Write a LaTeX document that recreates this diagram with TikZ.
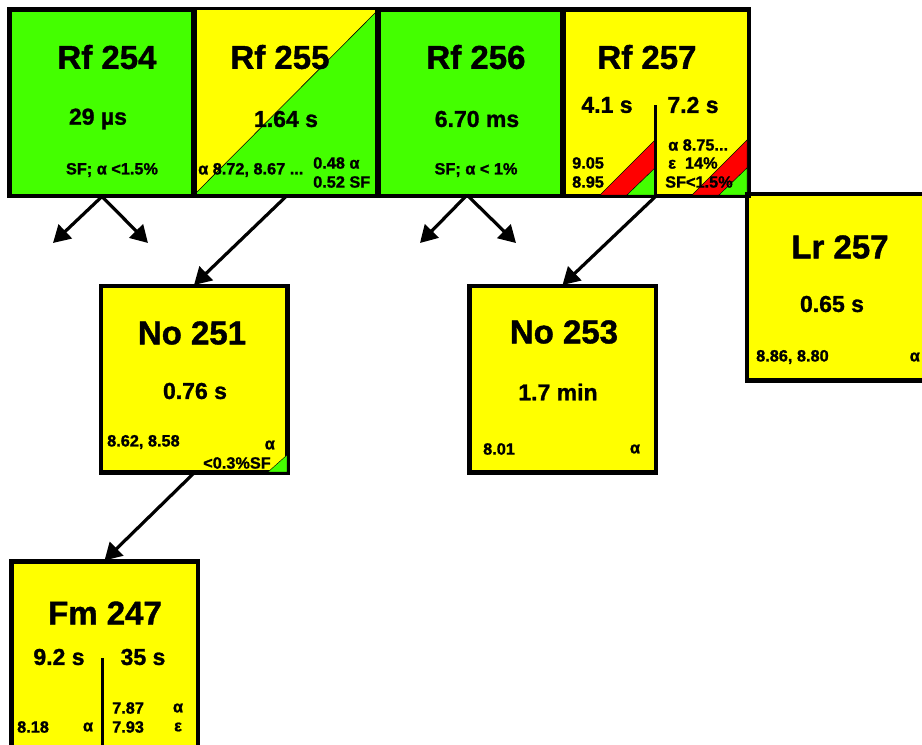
\documentclass[tikz,border=0pt]{standalone}
\usepackage{fontspec}
\setmainfont{Liberation Sans}[BoldFeatures={FakeBold=1.2}]
\usetikzlibrary{arrows.meta,calc}
\definecolor{ngreen}{HTML}{44FF00}
\definecolor{nyellow}{HTML}{FFFF00}
\definecolor{nred}{HTML}{FF0000}
\begin{document}
\begin{tikzpicture}[x=1pt,y=-1pt,
  cell/.style={minimum width=#1,minimum height=185pt,inner sep=0pt,line width=3pt,draw=black},
  cell/.default=185pt,
  ttl/.style={font=\fontsize{33}{35}\selectfont\bfseries,inner sep=0pt},
  hl/.style={font=\fontsize{23}{25}\selectfont\bfseries,inner sep=0pt},
  sm/.style={font=\fontsize{16.3}{18}\selectfont\bfseries,inner sep=0pt},
  dk/.style={line width=3.2pt,-{Triangle[length=17pt,width=19pt]}},
  sep/.style={line width=3pt},
  edge/.style={line width=0.4pt,draw=black}
  ]
\useasboundingbox (0,0) rectangle (922,745);

% cells
\node[cell=184pt,fill=ngreen]  (rf254) at (102,102.5) {};
\node[cell=184pt,fill=ngreen]  (rf255) at (286,102.5) {};
\node[cell=185pt,fill=ngreen]  (rf256) at (470.5,102.5) {};
\node[cell=185pt,fill=nyellow] (rf257) at (655.5,102.5) {};
\node[cell,fill=nyellow] (lr257) at (840,287) {};
\node[cell,fill=nyellow] (no251) at (194,379) {};
\node[cell,fill=nyellow] (no253) at (562.5,379) {};
\node[cell,fill=nyellow] (fm247) at (104.5,654.5) {};

% Rf 255 split
\fill[nyellow] (rf255.north west) -- (rf255.north east) -- (rf255.south west) -- cycle;
\draw[line width=0.6pt] (rf255.south west) -- (rf255.north east);

% Rf 257 stripes
\filldraw[fill=nred,edge]    (600,195) -- (655,140) -- (655,168) -- (627,195) -- cycle;
\filldraw[fill=ngreen,edge]  (627,195) -- (655,168) -- (655,195) -- cycle;
\filldraw[fill=nred,edge]    (692,195) -- (747,140) -- (747,168) -- (719,195) -- cycle;
\filldraw[fill=ngreen,edge]  (719,195) -- (747,168) -- (747,195) -- cycle;

% No 251 corner
\filldraw[fill=ngreen,edge] (268,472) -- (287,472) -- (287,455) -- cycle;

% borders again
\foreach \c in {rf254,rf255,rf256,rf257,lr257,no251,no253,fm247}
  \draw[line width=3pt] (\c.north west) rectangle (\c.south east);

% split lines
\coordinate (v1) at (655.5,105);
\draw[sep] (v1) -- (v1 |- rf257.south);
\coordinate (v2) at (102,658);
\draw[sep] (v2) -- (102,750);

% texts Rf 254
\node[ttl] (t254) at (107,57) {Rf 254};
\node[hl]  (h254) at (98,119) {29 µs};
\node[sm]  (s254) at (112,170) {SF; α <1.5\%};
% Rf 255
\node[ttl] (t255) at (280,57) {Rf 255};
\node[hl]  (h255) at (286,119) {1.64 s};
\node[sm,anchor=west] (s255a) at (198,170) {α 8.72, 8.67 ...};
\node[sm,anchor=west] (s255b) at (313,163) {0.48 α};
\node[sm,anchor=west] (s255c) at (313,182) {0.52 SF};
% Rf 256
\node[ttl] (t256) at (476,57) {Rf 256};
\node[hl]  (h256) at (477,119) {6.70 ms};
\node[sm]  (s256) at (476,170) {SF; α < 1\%};
% Rf 257
\node[ttl] (t257) at (647,57) {Rf 257};
\node[hl]  (h257a) at (607,105) {4.1 s};
\node[hl]  (h257b) at (693,105) {7.2 s};
\node[sm,anchor=west] (s257a) at (572,163) {9.05};
\node[sm,anchor=west] (s257b) at (572,182) {8.95};
\node[sm,anchor=west] (s257c) at (668,145) {α 8.75...};
\node[sm,anchor=west] (s257d) at (668,163) {ε\ \ 14\%};
\node[sm,anchor=west] (s257e) at (665,182) {SF<1.5\%};
% Lr 257
\node[ttl] (tlr) at (840,247) {Lr 257};
\node[hl]  (hlr) at (832,304) {0.65 s};
\node[sm,anchor=west] (slra) at (756,357) {8.86, 8.80};
\node[sm,anchor=east] (slrb) at (920,357) {α};
% No 251
\node[ttl] (t251) at (192,333) {No 251};
\node[hl]  (h251) at (195,391) {0.76 s};
\node[sm,anchor=west] (s251a) at (107,442) {8.62, 8.58};
\node[sm,anchor=east] (s251b) at (275,445) {α};
\node[sm] (s251c) at (237,463) {<0.3\%SF};
% No 253
\node[ttl] (t253) at (564,332) {No 253};
\node[hl]  (h253) at (558,392) {1.7 min};
\node[sm,anchor=west] (s253a) at (483,449) {8.01};
\node[sm] (s253b) at (635,449) {α};
% Fm 247
\node[ttl] (tfm) at (105,613) {Fm 247};
\node[hl]  (hfma) at (59,657) {9.2 s};
\node[hl]  (hfmb) at (143,657) {35 s};
\node[sm,anchor=west] (sfma) at (17,727) {8.18};
\node[sm] (sfmb) at (88,727) {α};
\node[sm,anchor=west] (sfmc) at (112,708) {7.87};
\node[sm] (sfmd) at (178,708) {α};
\node[sm,anchor=west] (sfme) at (112,727) {7.93};
\node[sm] (sfmf) at (178,727) {ε};

% arrows
\coordinate (a1) at (53,243);
\coordinate (a2) at (148,243);
\coordinate (a3) at (420,243);
\coordinate (a4) at (516,243);
\coordinate (s256) at (467,195);
\draw[dk] (rf254.south) -- (a1);
\draw[dk] (rf254.south) -- (a2);
\draw[dk] (s256) -- (a3);
\draw[dk] (s256) -- (a4);
\draw[dk] (rf255.south) -- (no251.north);
\draw[dk] (rf257.south) -- (no253.north);
\draw[dk] (no251.south) -- (fm247.north);
\end{tikzpicture}
\end{document}
